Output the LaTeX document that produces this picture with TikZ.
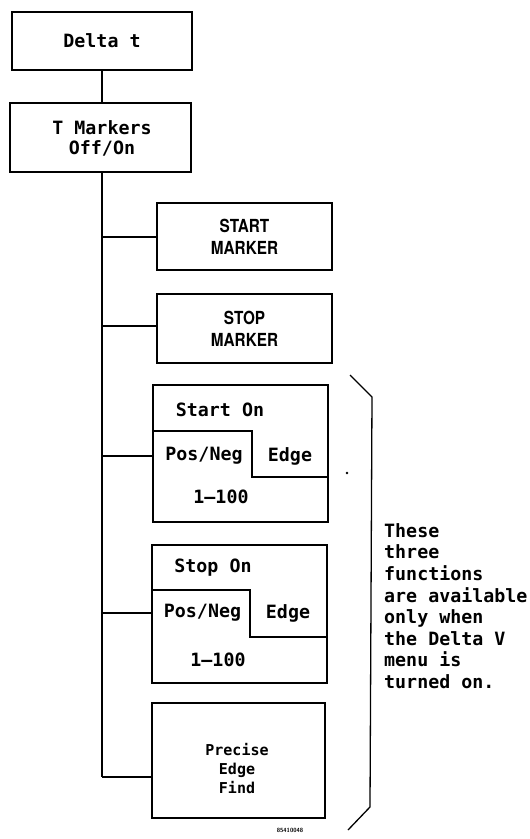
\documentclass[tikz,border=0pt]{standalone}
\usepackage{fontspec}
\usepackage{graphicx}
\newfontfamily\plotfont{DejaVu Sans Mono}
\newfontfamily\capsfont{TeX Gyre Heros}
\newcommand\squeezed[1]{\scalebox{0.85}[1]{#1}}
\usetikzlibrary{calc}
\begin{document}
\begin{tikzpicture}[x=1pt,y=-1pt,
  box/.style={draw, line width=1.6pt, inner sep=0pt, align=center},
  capbox/.style={box, font=\capsfont\fontsize{18}{22}\selectfont\bfseries},
  lbl/.style={inner sep=0pt, align=center, font=\plotfont\bfseries\fontsize{18.3}{20}\selectfont},
  conn/.style={line width=1.3pt},
  inner/.style={line width=1.6pt}]
\useasboundingbox (0,0) rectangle (530,839);

% top boxes
\node[box, minimum width=180, minimum height=58] (delta) at (102,41) {};
\node[lbl] (deltat) at (102,41) {Delta t};
\node[box, minimum width=181, minimum height=69] (tmark) at (100.5,137.5) {};
\node[lbl] (tmarkt) at (102,138) {T Markers\\Off/On};

% marker boxes
\node[capbox, minimum width=175, minimum height=67] (startm) at (244.5,236.5) {\squeezed{\bfseries START}\\\squeezed{\bfseries MARKER}};
\node[capbox, minimum width=175, minimum height=69] (stopm) at (244.5,328.5) {\squeezed{\bfseries STOP}\\\squeezed{\bfseries MARKER}};

% Start On box
\node[box, minimum width=175, minimum height=137] (starton) at (240.5,453.5) {};
\draw[inner] (starton.west |- 0,431) -- (252,431) -- (252,477) -- (starton.east |- 0,477);
\node[lbl] (t1) at (220,410) {Start On};
\node[lbl] (t2) at (204,456) {Pos/Neg};
\node[lbl] (t3) at (290,456) {Edge};
\node[lbl] (t4) at (221,497) {1–100};

% Stop On box
\node[box, minimum width=175, minimum height=138] (stopon) at (239.5,614) {};
\draw[inner] (stopon.west |- 0,590) -- (250,590) -- (250,637) -- (stopon.east |- 0,637);
\node[lbl] (u1) at (213,568) {Stop On};
\node[lbl] (u2) at (202.5,613) {Pos/Neg};
\node[lbl] (u3) at (288,613) {Edge};
\node[lbl] (u4) at (218,660) {1–100};

% Precise box
\node[box, minimum width=173, minimum height=115] (precise) at (238.5,760.5) {};
\node[lbl, font=\plotfont\bfseries\fontsize{15}{19}\selectfont] (pt) at (237,768) {Precise\\Edge\\Find};

% connectors
\coordinate (trunkend) at (102,777);
\draw[conn] (tmark.south -| 102,0) -- (trunkend);
\draw[conn] (delta.south -| 102,0) -- (tmark.north -| 102,0);
\draw[conn] (102,237) -- (startm.west |- 0,237);
\draw[conn] (102,326) -- (stopm.west |- 0,326);
\draw[conn] (102,456) -- (starton.west |- 0,456);
\draw[conn] (102,613) -- (stopon.west |- 0,613);
\draw[conn] (trunkend) -- (precise.west |- 0,777);

% bracket
\coordinate (b1) at (350,375);
\coordinate (b2) at (372,397);
\coordinate (b3) at (370,807);
\coordinate (b4) at (348,830);
\draw[line width=1.3pt] (b1) -- (b2) -- (b3) -- (b4);
\fill (347,473) circle (1.3);

% note
\node[lbl, anchor=west, align=left, font=\plotfont\bfseries\fontsize{18.3}{21.6}\selectfont] (note) at (384,606)
  {These\\three\\functions\\are available\\only when\\the Delta V\\menu is\\turned on.};

% figure number
\node[inner sep=0pt, font=\sffamily\bfseries\fontsize{6}{6}\selectfont] (fig) at (290,830) {85410048};
\end{tikzpicture}
\end{document}
